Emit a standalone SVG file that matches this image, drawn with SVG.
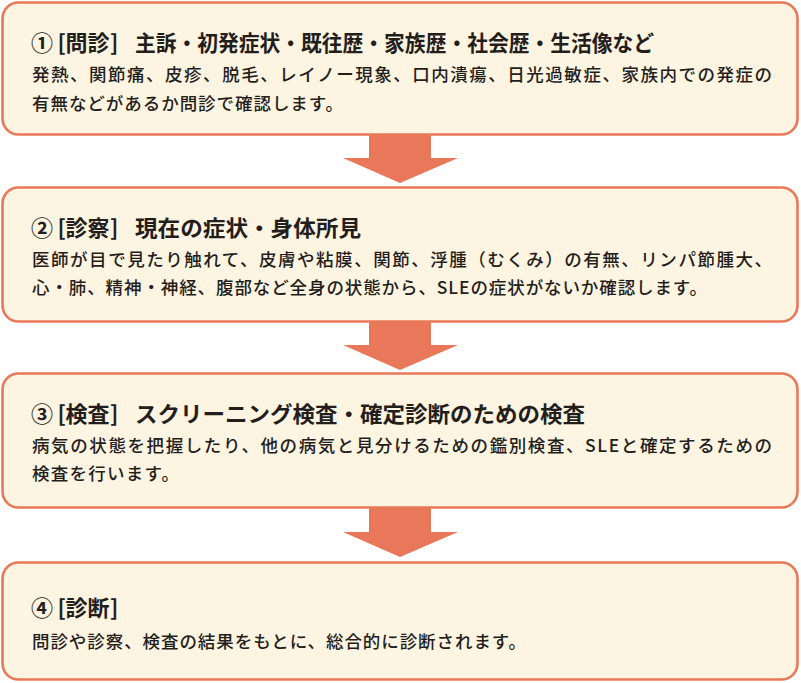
<svg xmlns="http://www.w3.org/2000/svg" width="801" height="683" viewBox="0 0 801 683">
<style>
.box{fill:#FEF4E2;stroke:#E9785A;stroke-width:2.6}
.arrow{fill:#E9785A}
text{font-family:"Noto Sans CJK JP","Noto Sans",sans-serif;fill:#231E1B}
.t{font-size:22px;font-weight:700}
.b{font-size:17.5px;font-weight:500}
</style>
<rect width="801" height="683" fill="#FFFFFF"/>
<g id="connectors">
<polygon class="arrow" points="369,134 431,134 431,158 458,158 400,183 343,158 369,158"/>
<polygon class="arrow" points="369,321 431,321 431,345 458,345 400,370 343,345 369,345"/>
<polygon class="arrow" points="369,507 431,507 431,532 458,532 400,557 343,532 369,532"/>
</g>
<g id="step1">
<rect class="box" x="2.5" y="2.5" width="795" height="132" rx="16"/>
<text class="t" y="51"><tspan x="31">①</tspan><tspan x="57.5">[</tspan><tspan x="65.5">問診</tspan><tspan x="110">]</tspan></text>
<text class="t" x="135" y="51" textLength="519" lengthAdjust="spacingAndGlyphs">主訴・初発症状・既往歴・家族歴・社会歴・生活像など</text>
<text class="b" x="32" y="81" textLength="740" lengthAdjust="spacing">発熱、関節痛、皮疹、脱毛、レイノー現象、口内潰瘍、日光過敏症、家族内での発症の</text>
<text class="b" x="32" y="110" textLength="311" lengthAdjust="spacing">有無などがあるか問診で確認します。</text>
</g>
<g id="step2">
<rect class="box" x="2.5" y="187.5" width="795" height="134" rx="16"/>
<text class="t" y="236"><tspan x="31">②</tspan><tspan x="57.5">[</tspan><tspan x="65.5">診察</tspan><tspan x="110">]</tspan></text>
<text class="t" x="135" y="236" textLength="226" lengthAdjust="spacingAndGlyphs">現在の症状・身体所見</text>
<text class="b" x="32" y="266" textLength="740" lengthAdjust="spacing">医師が目で見たり触れて、皮膚や粘膜、関節、浮腫（むくみ）の有無、リンパ節腫大、</text>
<text class="b" x="32" y="294" textLength="675" lengthAdjust="spacing">心・肺、精神・神経、腹部など全身の状態から、SLEの症状がないか確認します。</text>
</g>
<g id="step3">
<rect class="box" x="2.5" y="373.5" width="795" height="134" rx="16"/>
<text class="t" y="422"><tspan x="31">③</tspan><tspan x="57.5">[</tspan><tspan x="65.5">検査</tspan><tspan x="110">]</tspan></text>
<text class="t" x="135" y="422" textLength="450" lengthAdjust="spacingAndGlyphs">スクリーニング検査・確定診断のための検査</text>
<text class="b" x="32" y="452" textLength="740" lengthAdjust="spacing">病気の状態を把握したり、他の病気と見分けるための鑑別検査、SLEと確定するための</text>
<text class="b" x="32" y="480" textLength="147" lengthAdjust="spacing">検査を行います。</text>
</g>
<g id="step4">
<rect class="box" x="2.5" y="562.5" width="795" height="117" rx="16"/>
<text class="t" y="616"><tspan x="31">④</tspan><tspan x="57.5">[</tspan><tspan x="65.5">診断</tspan><tspan x="110">]</tspan></text>
<text class="b" x="32" y="648" textLength="494" lengthAdjust="spacing">問診や診察、検査の結果をもとに、総合的に診断されます。</text>
</g>
</svg>
